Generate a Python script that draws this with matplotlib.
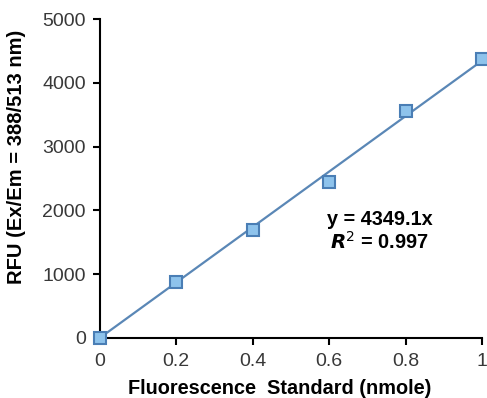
import matplotlib
matplotlib.use("Agg")
import matplotlib.pyplot as plt
import numpy as np

plt.rcParams['font.family'] = ['Liberation Sans', 'DejaVu Sans']

x_vals = [0, 0.2, 0.4, 0.6, 0.8, 1.0]
rfu = [0, 880, 1690, 2450, 3560, 4380]
slope = 4349.1
r2 = 0.997

fig = plt.figure(figsize=(4.87, 3.98), dpi=100)
ax = fig.add_axes([0.205, 0.151, 0.785, 0.801])

fit_x = np.array([0, 1.0])
ax.plot(fit_x, slope * fit_x, color='#5A87B6', lw=1.6, zorder=2)
ax.plot(x_vals, rfu, ls='none', marker='s', ms=8, mfc='#8EC3EC', mec='#4A7EB5',
        mew=1.5, clip_on=False, zorder=3)

ax.set_xlim(0, 1)
ax.set_ylim(0, 5000)
ax.set_xticks([0, 0.2, 0.4, 0.6, 0.8, 1])
ax.set_xticklabels(['0', '0.2', '0.4', '0.6', '0.8', '1'])
ax.set_yticks(range(0, 5001, 1000))

for s in ['top', 'right']:
    ax.spines[s].set_visible(False)
for s in ['left', 'bottom']:
    ax.spines[s].set_linewidth(1.5)
ax.tick_params(direction='out', length=5, width=1.5, labelsize=14, labelcolor='#383838')
ax.tick_params(axis='x', pad=6)
ax.tick_params(axis='y', pad=5)

ax.set_xlabel('Fluorescence  Standard (nmole)', fontsize=14.3, fontweight='bold')
ax.set_ylabel('RFU (Ex/Em = 388/513 nm)', fontsize=14.5, fontweight='bold')
ax.xaxis.set_label_coords(0.471, -0.128)
ax.yaxis.set_label_coords(-0.194, 0.567)

ax.text(0.732, 1850, 'y = %.1fx' % slope, ha='center', va='center',
        fontsize=14.3, fontweight='bold')
ax.text(0.732, 1505, '$\\mathbfit{R}^{2}$ = %.3f' % r2, ha='center', va='center',
        fontsize=14.3, fontweight='bold')

fig.savefig('out.png', dpi=100)
